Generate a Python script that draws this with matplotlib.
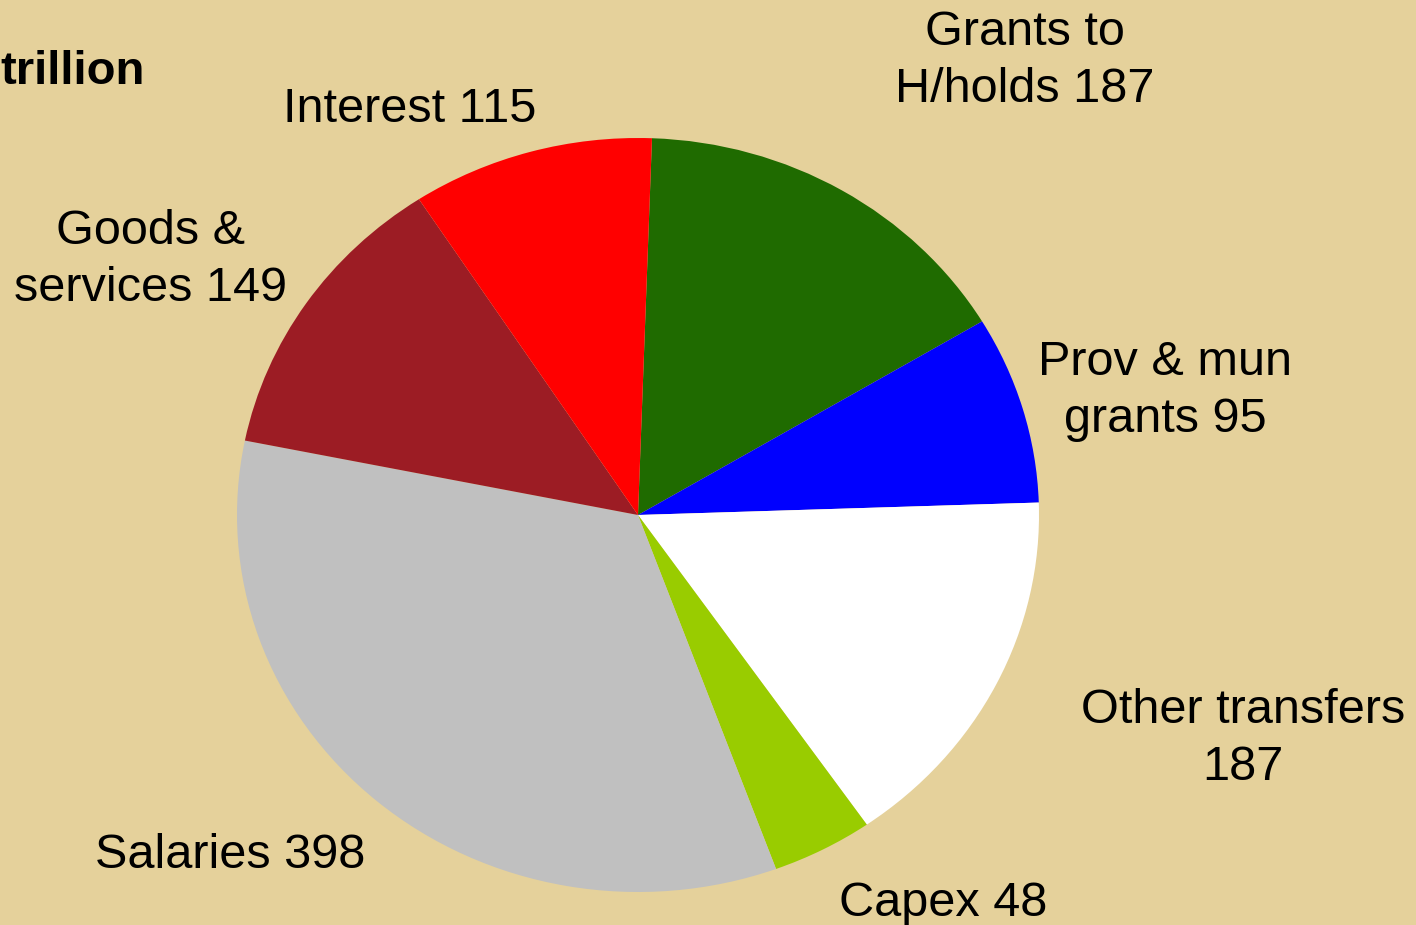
import matplotlib
matplotlib.use("Agg")
import matplotlib.pyplot as plt

categories = ["Grants to\nH/holds", "Prov & mun\ngrants", "Other transfers\n", "Capex", "Salaries", "Goods &\nservices", "Interest"]
values = [187, 95, 187, 48, 398, 149, 115]
colors = ["#1F6B00", "#0000FF", "#FFFFFF", "#99CC00", "#C0C0C0", "#9C1C24", "#FF0000"]
label_pos = [(1025, 61), (1165, 391), (1243, 739), (943, 903), (230, 855), (151, 260), (410, 110)]

W, H = 1416, 925
bg = "#E5D19B"
plt.rcParams['font.family'] = ['Liberation Sans', 'DejaVu Sans']

fig = plt.figure(figsize=(W / 100, H / 100), dpi=100, facecolor=bg)
ax = fig.add_axes([0, 0, 1, 1])
ax.set_facecolor(bg)

cx, cy, rx, ry = 638, 515, 401, 377
ax.pie(values, colors=colors, startangle=88.0, counterclock=False,
       wedgeprops=dict(linewidth=0), radius=1)
ax.set_aspect('auto')
ax.set_xlim(-cx / rx, (W - cx) / rx)
ax.set_ylim(-(H - cy) / ry, cy / ry)
ax.axis('off')

for cat, v, (x, y) in zip(categories, values, label_pos):
    if cat.endswith("\n"):
        txt = cat + str(v)
    else:
        txt = cat + " " + str(v)
    fig.text(x / W, 1 - y / H, txt, ha='center', va='center', multialignment='center',
             fontsize=35, color='black', linespacing=1.32)

fig.text(0.0, 1 - 72 / H, "trillion", ha='left', va='center', fontsize=34,
         fontweight='bold', color='black')

fig.savefig("out.png", dpi=100, facecolor=bg)
